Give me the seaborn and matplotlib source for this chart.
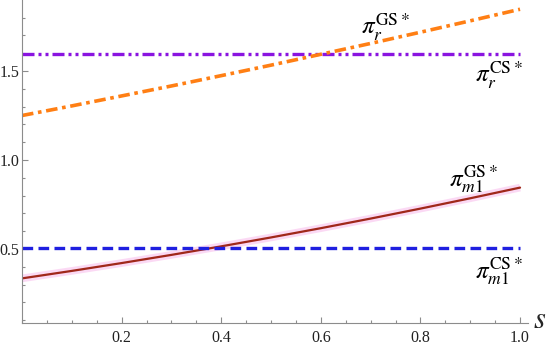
import numpy as np
import pandas as pd
import seaborn as sns
import matplotlib.pyplot as plt
from matplotlib.ticker import MultipleLocator, FixedLocator

# ----------------------- Data -------------------------------- #
s_vals = [0.0, 0.1, 0.2, 0.3, 0.4, 0.5, 0.6, 0.7, 0.8, 0.9, 1.0]
pi_r_gs = [1.250, 1.304, 1.360, 1.416, 1.474, 1.533, 1.594, 1.655, 1.718, 1.782, 1.847]
pi_r_cs = [1.597] * len(s_vals)
pi_m1_gs = [0.335, 0.377, 0.421, 0.467, 0.515, 0.565, 0.617, 0.671, 0.727, 0.785, 0.845]
pi_m1_cs = [0.505] * len(s_vals)

df = pd.DataFrame({"s": s_vals, "r_gs": pi_r_gs, "r_cs": pi_r_cs,
                   "m1_gs": pi_m1_gs, "m1_cs": pi_m1_cs})

# ----------------------- Style ------------------------------- #
sns.set_theme(style="white")
plt.rcParams["font.family"] = ["Liberation Serif", "DejaVu Serif"]
plt.rcParams["mathtext.fontset"] = "stix"

fig = plt.figure(figsize=(5.5, 3.45), dpi=100)
ax = fig.add_axes([22 / 550, 22.3 / 345, 506 / 550, 322.7 / 345])

# pale pink band behind the solid curve (rendering artefact in the original)
sns.lineplot(data=df, x="s", y="m1_gs", ax=ax, color="#fbd9f4", lw=5.5, solid_capstyle="butt")
sns.lineplot(data=df, x="s", y="m1_gs", ax=ax, color="#a0281a", lw=1.6)
sns.lineplot(data=df, x="s", y="m1_cs", ax=ax, color="#1f1fe0", lw=2.4,
             linestyle=(0, (3.2, 1.6)))
sns.lineplot(data=df, x="s", y="r_cs", ax=ax, color="#8a14e0", lw=2.4,
             linestyle=(0, (3.6, 1.2, 0.9, 1.2, 0.9, 1.2)))
sns.lineplot(data=df, x="s", y="r_gs", ax=ax, color="#ff7f14", lw=2.6,
             linestyle=(0, (3.2, 1.3, 1.0, 1.3)))

# ----------------------- Axes -------------------------------- #
ax.set_xlim(0, 1.016)
ax.set_ylim(0.086, 1.899)
ax.set_xlabel("")
ax.set_ylabel("")
for side in ["top", "right"]:
    ax.spines[side].set_visible(False)
for side in ["left", "bottom"]:
    ax.spines[side].set_color("#8c8c8c")
    ax.spines[side].set_linewidth(0.8)

ax.xaxis.set_major_locator(FixedLocator([0.2, 0.4, 0.6, 0.8, 1.0]))
ax.xaxis.set_minor_locator(MultipleLocator(0.05))
ax.yaxis.set_major_locator(FixedLocator([0.5, 1.0, 1.5]))
ax.yaxis.set_minor_locator(MultipleLocator(0.1))
ax.tick_params(which="both", direction="in", color="#8c8c8c", width=0.8,
               bottom=True, left=True, labelsize=11.5, labelcolor="#222222")
ax.tick_params(which="major", length=4, pad=5)
ax.tick_params(which="minor", length=2.5)
ax.tick_params(axis="y", pad=2)
for lbl in ax.get_xticklabels() + ax.get_yticklabels():
    lbl.set_fontfamily("Liberation Serif")

# ----------------------- Labels ------------------------------ #
lab_kw = dict(fontsize=18, ha="left", va="center", color="black")
ax.text(0.680, 1.745, r"$\pi_{r}^{\mathrm{GS}*}$", **lab_kw)
ax.text(0.910, 1.478, r"$\pi_{r}^{\mathrm{CS}*}$", **lab_kw)
ax.text(0.858, 0.895, r"$\pi_{m\mathrm{1}}^{\mathrm{GS}*}$", **lab_kw)
ax.text(0.910, 0.376, r"$\pi_{m\mathrm{1}}^{\mathrm{CS}*}$", **lab_kw)
ax.text(1.04, 0.10, r"$s$", fontsize=22, ha="center", va="center", clip_on=False)

plt.savefig("out.png", dpi=100)
plt.close()
